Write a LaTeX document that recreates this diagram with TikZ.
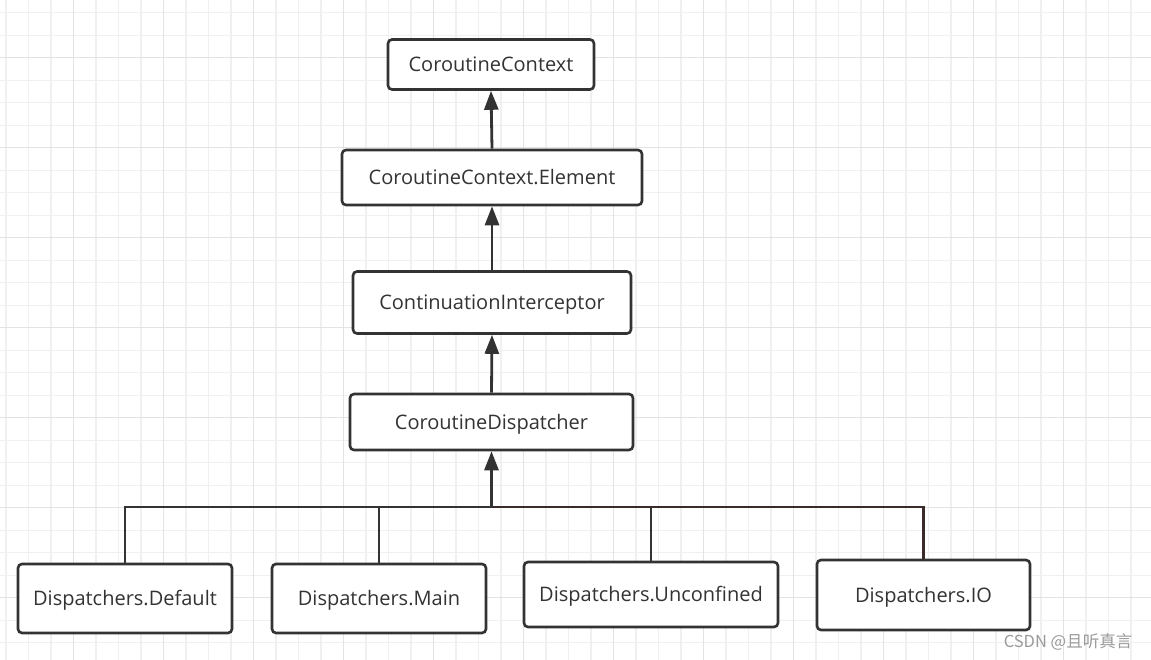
\documentclass[tikz,border=0pt]{standalone}
\usepackage{fontspec}
\setmainfont{Open Sans}
\newfontfamily\cjk{Noto Sans CJK SC}
\usetikzlibrary{arrows.meta}
\definecolor{ink}{HTML}{333333}
\definecolor{redink}{HTML}{3A2A2A}
\definecolor{gridminor}{HTML}{F0F0F0}
\definecolor{gridmajor}{HTML}{E3E3E3}
\definecolor{wm}{HTML}{9A9A9A}
\tikzset{
  box/.style={draw=ink, line width=2.6pt, rounded corners=4pt, fill=white,
    text=ink, inner sep=0pt, text height=14.5pt, text depth=0pt,
    font=\fontsize{20}{24}\selectfont},
  link/.style={draw=ink, line width=2.8pt},
  uparrow/.style={link, -{Triangle[length=19pt,width=14pt]}},
}
\begin{document}
\begin{tikzpicture}[x=1pt,y=-1pt]
\useasboundingbox (0,0) rectangle (1151,660);
\fill[white] (0,0) rectangle (1151,660);
% grid
\foreach \k in {0,...,50} \draw[gridminor, line width=1.3pt] ({6+22.5*\k},0) -- ({6+22.5*\k},660);
\foreach \k in {0,...,28} \draw[gridminor, line width=1.3pt] (0,{12.7+22.5*\k}) -- (1151,{12.7+22.5*\k});
\foreach \k in {3,7,...,50} \draw[gridmajor, line width=1.3pt] ({6+22.5*\k},0) -- ({6+22.5*\k},660);
\foreach \k in {2,6,...,28} \draw[gridmajor, line width=1.3pt] (0,{12.7+22.5*\k}) -- (1151,{12.7+22.5*\k});

% nodes
\node[box, minimum width=206pt, minimum height=50pt] (ctx) at (491,64.5) {CoroutineContext};
\node[box, minimum width=300pt, minimum height=55pt] (elem) at (492,177.5) {CoroutineContext.Element};
\node[box, minimum width=278pt, minimum height=62pt] (icpt) at (492,302.5) {ContinuationInterceptor};
\node[box, minimum width=283pt, minimum height=56pt] (disp) at (491.5,422) {CoroutineDispatcher};
\node[box, minimum width=214pt, minimum height=69pt] (ddef) at (125,598.5) {Dispatchers.Default};
\node[box, minimum width=214pt, minimum height=69pt] (dmain) at (379,598.5) {Dispatchers.Main};
\node[box, minimum width=254pt, minimum height=65pt] (dunc) at (651,594.5) {Dispatchers.Unconfined};
\node[box, minimum width=213pt, minimum height=70pt] (dio) at (923.5,595) {Dispatchers.IO};

\coordinate (bus) at (491.5,507);

% connectors
\draw[link] (ddef.north) |- (bus);
\draw[link] (dmain.north) |- (bus);
\draw[link] (dunc.north) |- (bus);
\draw[link, draw=redink] (dio.north) |- (bus);
\draw[uparrow] (bus) -- (disp.south);
\draw[uparrow] (disp.north) -- (icpt.south);
\draw[uparrow] (icpt.north) -- (elem.south);
\draw[uparrow] (elem.north) -- (ctx.south);

% watermark
\node[text=wm, font=\cjk\fontsize{16.5}{19}\selectfont, inner sep=0pt] (wmk) at (1068,642) {CSDN @且听真言};
\end{tikzpicture}
\end{document}
